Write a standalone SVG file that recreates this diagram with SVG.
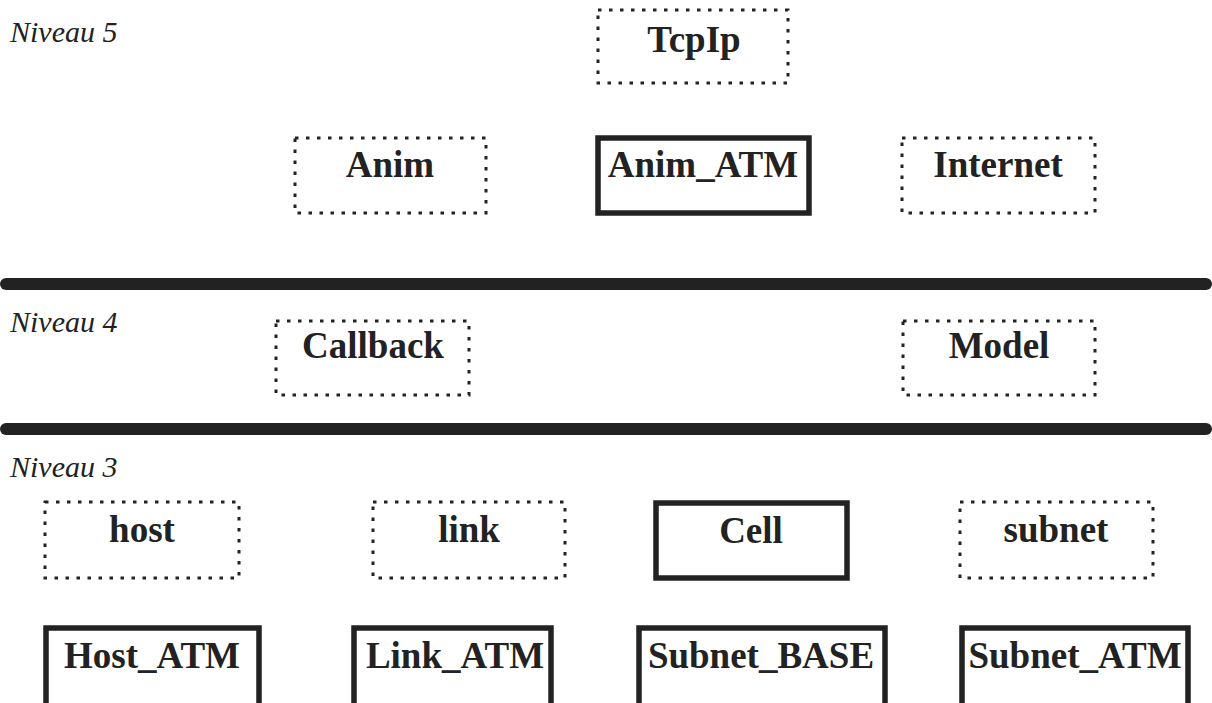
<svg xmlns="http://www.w3.org/2000/svg" width="1212" height="703" viewBox="0 0 1212 703">
<style>
.dot{fill:none;stroke:#222;stroke-width:3;stroke-dasharray:3.5 7.5}
.sol{fill:none;stroke:#222;stroke-width:5.5}
.t{font-family:"Liberation Serif",serif;font-weight:bold;font-size:37px;fill:#222;text-anchor:middle}
.lv{font-family:"Liberation Serif",serif;font-style:italic;font-size:30px;fill:#222}
.bar{stroke:#222;stroke-width:12;stroke-linecap:round}
</style>
<rect width="1212" height="703" fill="#fff"/>
<g id="levels">
<text class="lv" x="10" y="42">Niveau 5</text>
<text class="lv" x="10" y="332">Niveau 4</text>
<text class="lv" x="10" y="477">Niveau 3</text>
</g>
<g id="separators">
<line class="bar" x1="6" y1="284" x2="1206" y2="284"/>
<line class="bar" x1="6" y1="429" x2="1206" y2="429"/>
</g>
<g id="TcpIp"><rect class="dot" x="598" y="10" width="190" height="73"/><text class="t" x="694" y="52">TcpIp</text></g>
<g id="Anim"><rect class="dot" x="295" y="138" width="191" height="75"/><text class="t" x="390" y="177">Anim</text></g>
<g id="Anim_ATM"><rect class="sol" x="598" y="138" width="211" height="75"/><text class="t" x="703" y="177">Anim_ATM</text></g>
<g id="Internet"><rect class="dot" x="902" y="138" width="193" height="75"/><text class="t" x="998" y="177">Internet</text></g>
<g id="Callback"><rect class="dot" x="276" y="321" width="193" height="74"/><text class="t" x="373" y="358">Callback</text></g>
<g id="Model"><rect class="dot" x="903" y="321" width="192" height="74"/><text class="t" x="999" y="358">Model</text></g>
<g id="host"><rect class="dot" x="45" y="502" width="194" height="76"/><text class="t" x="142" y="542">host</text></g>
<g id="link"><rect class="dot" x="373" y="502" width="192" height="76"/><text class="t" x="469" y="542">link</text></g>
<g id="Cell"><rect class="sol" x="656" y="503" width="191" height="75"/><text class="t" x="751" y="543">Cell</text></g>
<g id="subnet"><rect class="dot" x="960" y="502" width="193" height="76"/><text class="t" x="1056" y="542">subnet</text></g>
<g id="Host_ATM"><rect class="sol" x="46" y="628" width="213" height="80"/><text class="t" x="152" y="668">Host_ATM</text></g>
<g id="Link_ATM"><rect class="sol" x="354" y="628" width="197" height="80"/><text class="t" x="455" y="668">Link_ATM</text></g>
<g id="Subnet_BASE"><rect class="sol" x="639" y="628" width="246" height="80"/><text class="t" x="761" y="668">Subnet_BASE</text></g>
<g id="Subnet_ATM"><rect class="sol" x="962" y="628" width="226" height="80"/><text class="t" x="1075" y="668">Subnet_ATM</text></g>
<g id="connectors"/>
</svg>
